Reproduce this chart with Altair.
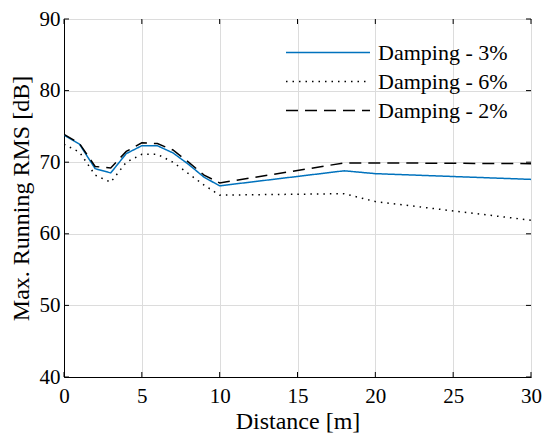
import altair as alt
import pandas as pd

distance = [0, 1, 2, 3, 4, 5, 6, 7, 8, 9, 10, 18, 20, 30]
damp3 = [73.8, 72.5, 69.1, 68.5, 71.2, 72.3, 72.3, 71.3, 69.7, 67.9, 66.7, 68.8, 68.4, 67.6]
damp6 = [72.5, 71.4, 68.2, 67.2, 70.0, 71.1, 71.1, 70.0, 68.4, 66.8, 65.4, 65.6, 64.5, 61.9]
damp2 = [73.9, 72.6, 69.4, 69.2, 71.5, 72.7, 72.6, 71.7, 70.0, 68.2, 67.1, 69.9, 69.9, 69.8]
series_names = ["Damping - 3%", "Damping - 6%", "Damping - 2%"]
series_colors = ["#0072BD", "#000000", "#000000"]
series_dash = [[1, 0], [1.5, 5], [12, 7]]
x_ticks = [0, 5, 10, 15, 20, 25, 30]
y_ticks = [40, 50, 60, 70, 80, 90]

rows = []
for name, vals in zip(series_names, [damp3, damp6, damp2]):
    for d, v in zip(distance, vals):
        rows.append({"Distance": d, "RMS": v, "Series": name})
df = pd.DataFrame(rows)

FONT = "Liberation Serif"
W, H = 467, 358
x_scale = alt.Scale(domain=[0, 30], nice=False, zero=False)
y_scale = alt.Scale(domain=[40, 90], nice=False, zero=False)

legend = alt.Legend(
    title=None, orient="none", legendX=252.5, legendY=22,
    symbolType="M-4,0H4", symbolSize=441, symbolStrokeWidth=1.5,
    labelFont=FONT, labelFontSize=22, labelColor="black", labelOffset=38.5,
    rowPadding=6, padding=0,
)

lines = alt.Chart(df).mark_line(strokeWidth=1.5, clip=True).encode(
    x=alt.X("Distance:Q", scale=x_scale,
            axis=alt.Axis(values=x_ticks, title="Distance [m]", labelPadding=8,
                          titlePadding=3, labelFlush=False)),
    y=alt.Y("RMS:Q", scale=y_scale,
            axis=alt.Axis(values=y_ticks, title="Max. Running RMS [dB]", labelPadding=4,
                          titlePadding=6, labelFlush=False)),
    color=alt.Color("Series:N", scale=alt.Scale(domain=series_names, range=series_colors), legend=legend),
    strokeDash=alt.StrokeDash("Series:N", scale=alt.Scale(domain=series_names, range=series_dash), legend=legend),
    order=alt.Order("Distance:Q"),
)

xt = pd.DataFrame({"t": x_ticks})
yt = pd.DataFrame({"t": y_ticks})
tick_style = dict(color="black", strokeWidth=1)
xb = alt.Chart(xt).mark_rule(**tick_style).encode(x=alt.X("t:Q", scale=x_scale), y=alt.value(H), y2=alt.value(H - 5))
xtop = alt.Chart(xt).mark_rule(**tick_style).encode(x=alt.X("t:Q", scale=x_scale), y=alt.value(0), y2=alt.value(5))
yl = alt.Chart(yt).mark_rule(**tick_style).encode(y=alt.Y("t:Q", scale=y_scale), x=alt.value(0), x2=alt.value(5))
yr = alt.Chart(yt).mark_rule(**tick_style).encode(y=alt.Y("t:Q", scale=y_scale), x=alt.value(W), x2=alt.value(W - 5))

chart = alt.layer(lines, xb, xtop, yl, yr).properties(
    width=W, height=H,
    autosize=alt.AutoSizeParams(type="none"),
    padding={"left": 56, "top": 11, "right": 11, "bottom": 56},
    background="white",
).configure_view(stroke="black", strokeWidth=1).configure_axis(
    domain=True, domainColor="black", domainWidth=1, ticks=False,
    grid=True, gridColor="#dcdcdc", gridWidth=1,
    labelFont=FONT, labelFontSize=21, labelColor="black",
    titleFont=FONT, titleFontSize=24, titleFontWeight="normal", titleColor="black",
)

chart.save("out.html", embed_options={"renderer": "svg", "actions": False})
